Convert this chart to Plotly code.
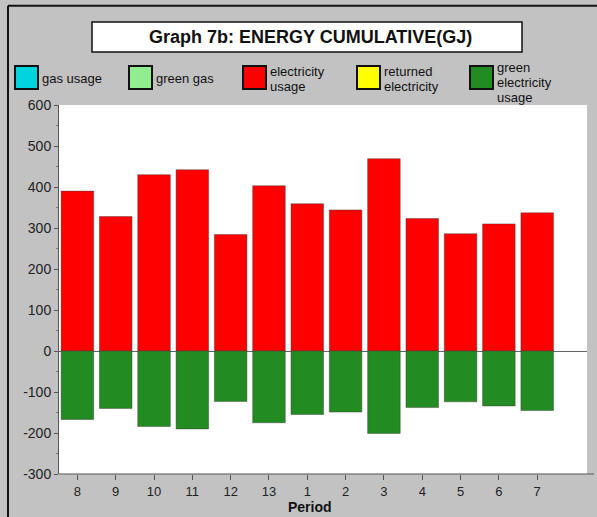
import plotly.graph_objects as go

periods = ["8", "9", "10", "11", "12", "13", "1", "2", "3", "4", "5", "6", "7"]
gas_usage = [0] * 13
green_gas = [0] * 13
electricity_usage = [390, 328, 430, 442, 284, 403, 359, 344, 469, 323, 286, 310, 337]
returned_electricity = [0] * 13
green_electricity_usage = [-167, -140, -184, -190, -123, -175, -155, -149, -201, -138, -124, -134, -145]

y_tickvals = [-300, -200, -100, 0, 100, 200, 300, 400, 500, 600]
y_ticktext = ["-300", "-200", "-100", "0", "100", "200", "300", "400", "500", "600"]

series = [
    ("gas usage", gas_usage, "#00d4dc"),
    ("green gas", green_gas, "#90ee90"),
    ("electricity usage", electricity_usage, "#ff0000"),
    ("returned electricity", returned_electricity, "#ffff00"),
    ("green electricity usage", green_electricity_usage, "#228b22"),
]

W, H = 597, 517
L, R, T, B = 59, 587, 105, 474.5
PW, PH = R - L, B - T


def px(x):
    return (x - L) / PW


def py(y):
    return (B - y) / PH


fig = go.Figure()
for name, vals, col in series:
    lw = 0.8 if any(v != 0 for v in vals) else 0
    fig.add_trace(go.Bar(
        x=periods, y=vals, name=name,
        marker=dict(color=col, line=dict(color="rgba(60,60,60,0.55)", width=lw)),
        showlegend=False,
    ))

shapes = []
annotations = []

# outer frame
shapes.append(dict(type="line", xref="paper", yref="paper", x0=px(8), x1=px(600), y0=py(5.5), y1=py(5.5),
                   line=dict(color="#111", width=2)))
shapes.append(dict(type="line", xref="paper", yref="paper", x0=px(8), x1=px(8), y0=py(5.5), y1=py(520),
                   line=dict(color="#111", width=2)))
# title box
shapes.append(dict(type="rect", xref="paper", yref="paper", x0=px(92), x1=px(522), y0=py(22), y1=py(52),
                   fillcolor="white", line=dict(color="#111", width=1.5)))
annotations.append(dict(xref="paper", yref="paper", x=px(310), y=py(37), text="<b>Graph 7b: ENERGY CUMULATIVE(GJ)</b>",
                        showarrow=False, font=dict(size=18, color="#111"), xanchor="center", yanchor="middle"))

# legend
legend_items = [
    (15, "#00d4dc", ["gas usage"]),
    (129, "#90ee90", ["green gas"]),
    (243, "#ff0000", ["electricity", "usage"]),
    (357, "#ffff00", ["returned", "electricity"]),
    (470, "#228b22", ["green", "electricity", "usage"]),
]
for x0, col, lines in legend_items:
    shapes.append(dict(type="rect", xref="paper", yref="paper", x0=px(x0), x1=px(x0 + 23), y0=py(66), y1=py(89),
                       fillcolor=col, line=dict(color="#111", width=2)))
    n = len(lines)
    if n == 1:
        ys = [78]
    elif n == 2:
        ys = [71, 86]
    else:
        ys = [67, 82, 97]
    for ln, yy in zip(lines, ys):
        annotations.append(dict(xref="paper", yref="paper", x=px(x0 + 25), y=py(yy), text=ln, showarrow=False,
                                xanchor="left", yanchor="middle", font=dict(size=13, color="#111")))

# x-axis line extending past the plot area
shapes.append(dict(type="line", xref="paper", yref="paper", x0=0, x1=px(594), y0=0, y1=0,
                   line=dict(color="#555", width=1)))

annotations.append(dict(xref="paper", yref="paper", x=px(310), y=py(507.5), text="<b>Period</b>", showarrow=False,
                        xanchor="center", yanchor="middle", font=dict(size=14, color="#111")))

fig.update_layout(
    width=W, height=H,
    margin=dict(l=L, r=W - R, t=T, b=H - B, pad=0),
    paper_bgcolor="#c2c2c2",
    plot_bgcolor="white",
    barmode="relative",
    bargap=0.15,
    font=dict(family="Liberation Sans, Arial, sans-serif", size=14, color="#222"),
    shapes=shapes,
    annotations=annotations,
    showlegend=False,
)
fig.update_xaxes(
    type="category", range=[-0.48, 13.3], showgrid=False, zeroline=False,
    ticks="outside", ticklen=5, tickcolor="#555", showline=False,
    tickfont=dict(size=13, color="#222"),
)
fig.update_yaxes(
    range=[-300, 600], tickvals=y_tickvals, ticktext=y_ticktext, showgrid=False,
    zeroline=True, zerolinecolor="#666", zerolinewidth=1,
    showline=True, linecolor="#555", linewidth=1,
    ticks="outside", ticklen=4, tickcolor="#555",
    minor=dict(dtick=50, ticks="outside", ticklen=2, tickcolor="#777", showgrid=False),
    tickfont=dict(size=14, color="#222"),
)

fig.write_html(
    "out.html",
    config={"displayModeBar": False},
    post_script="document.body.style.margin='0';document.body.style.overflow='hidden';",
)
